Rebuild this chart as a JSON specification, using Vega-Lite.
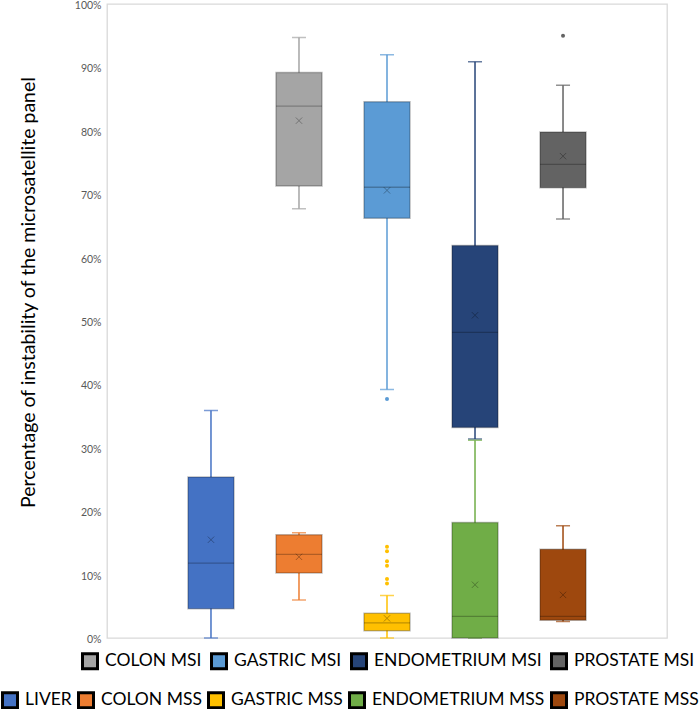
{
  "$schema": "https://vega.github.io/schema/vega-lite/v6.json",
  "width": 560,
  "height": 634,
  "autosize": {"type": "none"},
  "padding": {"left": 107, "top": 4, "right": 32, "bottom": 71},
  "background": "white",
  "config": {
    "view": {"stroke": "#d9d9d9", "strokeWidth": 1.3},
    "font": "Lato",
    "legend": {
      "orient": "none",
      "direction": "horizontal",
      "title": null,
      "padding": 0,
      "symbolType": "square",
      "symbolSize": 225,
      "symbolStrokeColor": "black",
      "symbolStrokeWidth": 3,
      "labelFont": "Lato",
      "labelFontSize": 17.5,
      "labelColor": "black",
      "labelOffset": 6,
      "labelLimit": 300
    }
  },
  "datasets": {
    "boxes": [
      {"group": "Liver", "series": "LIVER", "kind": "MSS", "lower": 0.0, "q1": 0.046, "median": 0.118, "q3": 0.254, "upper": 0.359, "mean": 0.155},
      {"group": "Colon", "series": "COLON MSS", "kind": "MSS", "lower": 0.060, "q1": 0.1025, "median": 0.132, "q3": 0.163, "upper": 0.166, "mean": 0.128},
      {"group": "Gastric", "series": "GASTRIC MSS", "kind": "MSS", "lower": 0.0, "q1": 0.0115, "median": 0.024, "q3": 0.039, "upper": 0.067, "mean": 0.031},
      {"group": "Endometrium", "series": "ENDOMETRIUM MSS", "kind": "MSS", "lower": 0.0, "q1": 0.0, "median": 0.034, "q3": 0.182, "upper": 0.312, "mean": 0.084},
      {"group": "Prostate", "series": "PROSTATE MSS", "kind": "MSS", "lower": 0.026, "q1": 0.028, "median": 0.034, "q3": 0.140, "upper": 0.177, "mean": 0.068},
      {"group": "Colon", "series": "COLON MSI", "kind": "MSI", "lower": 0.677, "q1": 0.713, "median": 0.839, "q3": 0.892, "upper": 0.947, "mean": 0.816},
      {"group": "Gastric", "series": "GASTRIC MSI", "kind": "MSI", "lower": 0.392, "q1": 0.662, "median": 0.711, "q3": 0.846, "upper": 0.920, "mean": 0.706},
      {"group": "Endometrium", "series": "ENDOMETRIUM MSI", "kind": "MSI", "lower": 0.314, "q1": 0.332, "median": 0.482, "q3": 0.619, "upper": 0.909, "mean": 0.509},
      {"group": "Prostate", "series": "PROSTATE MSI", "kind": "MSI", "lower": 0.661, "q1": 0.710, "median": 0.747, "q3": 0.798, "upper": 0.872, "mean": 0.760}
    ],
    "outliers": [
      {"group": "Gastric", "series": "GASTRIC MSS", "kind": "MSS", "value": 0.144},
      {"group": "Gastric", "series": "GASTRIC MSS", "kind": "MSS", "value": 0.137},
      {"group": "Gastric", "series": "GASTRIC MSS", "kind": "MSS", "value": 0.121},
      {"group": "Gastric", "series": "GASTRIC MSS", "kind": "MSS", "value": 0.114},
      {"group": "Gastric", "series": "GASTRIC MSS", "kind": "MSS", "value": 0.093},
      {"group": "Gastric", "series": "GASTRIC MSS", "kind": "MSS", "value": 0.086},
      {"group": "Gastric", "series": "GASTRIC MSI", "kind": "MSI", "value": 0.377},
      {"group": "Prostate", "series": "PROSTATE MSI", "kind": "MSI", "value": 0.950}
    ]
  },
  "encoding": {
    "x": {
      "field": "group",
      "type": "nominal",
      "axis": null,
      "scale": {
        "domain": ["Liver", "Colon", "Gastric", "Endometrium", "Prostate"],
        "paddingInner": 0.477,
        "paddingOuter": 0.92
      }
    }
  },
  "layer": [
    {
      "data": {"name": "boxes"},
      "mark": {"type": "rule", "strokeWidth": 1.5},
      "encoding": {
        "y": {
          "field": "lower",
          "type": "quantitative",
          "scale": {"domain": [0, 1], "nice": false},
          "axis": {
            "format": ".0%",
            "tickCount": 10,
            "grid": false,
            "ticks": false,
            "domain": false,
            "labelColor": "#595959",
            "labelFont": "Lato",
            "labelFontSize": 10.5,
            "labelPadding": 6,
            "labelOffset": 1.5,
            "title": "Percentage of instability of the microsatellite panel",
            "titleFont": "Lato",
            "titleFontSize": 19.5,
            "titleFontWeight": "normal",
            "titleColor": "black",
            "titleAngle": -90,
            "titleAlign": "center",
            "titleBaseline": "alphabetic",
            "titleX": -73,
            "titleY": 288
          }
        },
        "y2": {"field": "upper"},
        "stroke": {
          "field": "series",
          "type": "nominal",
          "legend": null,
          "scale": {
            "domain": ["COLON MSI", "GASTRIC MSI", "ENDOMETRIUM MSI", "PROSTATE MSI", "LIVER", "COLON MSS", "GASTRIC MSS", "ENDOMETRIUM MSS", "PROSTATE MSS"],
            "range": ["#A5A5A5", "#5B9BD5", "#264478", "#636363", "#4472C4", "#ED7D31", "#FFC000", "#70AD47", "#9E480E"]
          }
        }
      }
    },
    {
      "data": {"name": "boxes"},
      "mark": {"type": "tick", "size": 14, "thickness": 0, "filled": false, "strokeWidth": 1.5},
      "encoding": {
        "y": {"field": "lower", "type": "quantitative"},
        "stroke": {"field": "series", "type": "nominal", "legend": null}
      }
    },
    {
      "data": {"name": "boxes"},
      "mark": {"type": "tick", "size": 14, "thickness": 0, "filled": false, "strokeWidth": 1.5},
      "encoding": {
        "y": {"field": "upper", "type": "quantitative"},
        "stroke": {"field": "series", "type": "nominal", "legend": null}
      }
    },
    {
      "data": {"name": "boxes"},
      "transform": [{"filter": "datum.kind === 'MSS'"}],
      "mark": {"type": "bar"},
      "encoding": {
        "y": {"field": "q1", "type": "quantitative"},
        "y2": {"field": "q3"},
        "fill": {
          "field": "series",
          "type": "nominal",
          "scale": {
            "domain": ["LIVER", "COLON MSS", "GASTRIC MSS", "ENDOMETRIUM MSS", "PROSTATE MSS"],
            "range": ["#4472C4", "#ED7D31", "#FFC000", "#70AD47", "#9E480E"]
          },
          "legend": {"legendX": -106, "legendY": 687, "columnPadding": 0}
        }
      }
    },
    {
      "data": {"name": "boxes"},
      "transform": [{"filter": "datum.kind === 'MSI'"}],
      "mark": {"type": "bar"},
      "encoding": {
        "y": {"field": "q1", "type": "quantitative"},
        "y2": {"field": "q3"},
        "color": {
          "field": "series",
          "type": "nominal",
          "scale": {
            "domain": ["COLON MSI", "GASTRIC MSI", "ENDOMETRIUM MSI", "PROSTATE MSI"],
            "range": ["#A5A5A5", "#5B9BD5", "#264478", "#636363"]
          },
          "legend": {"legendX": -26, "legendY": 648, "columnPadding": 3}
        }
      }
    },
    {
      "data": {"name": "boxes"},
      "mark": {"type": "bar", "fillOpacity": 0, "stroke": "black", "strokeOpacity": 0.25, "strokeWidth": 1.5},
      "encoding": {
        "y": {"field": "q1", "type": "quantitative"},
        "y2": {"field": "q3"}
      }
    },
    {
      "data": {"name": "boxes"},
      "mark": {"type": "tick", "size": 46, "thickness": 1.3, "color": "black", "opacity": 0.25},
      "encoding": {
        "y": {"field": "median", "type": "quantitative"}
      }
    },
    {
      "data": {"name": "boxes"},
      "mark": {"type": "point", "shape": "M-1,-1L1,1M-1,1L1,-1", "size": 40, "filled": false, "color": "black", "opacity": 0.3, "strokeWidth": 1},
      "encoding": {
        "y": {"field": "mean", "type": "quantitative"}
      }
    },
    {
      "data": {"name": "outliers"},
      "transform": [{"filter": "datum.kind === 'MSS'"}],
      "mark": {"type": "point", "filled": true, "size": 16, "opacity": 1},
      "encoding": {
        "y": {"field": "value", "type": "quantitative"},
        "fill": {"field": "series", "type": "nominal"}
      }
    },
    {
      "data": {"name": "outliers"},
      "transform": [{"filter": "datum.kind === 'MSI'"}],
      "mark": {"type": "point", "filled": true, "size": 16, "opacity": 1},
      "encoding": {
        "y": {"field": "value", "type": "quantitative"},
        "color": {"field": "series", "type": "nominal"}
      }
    }
  ]
}
